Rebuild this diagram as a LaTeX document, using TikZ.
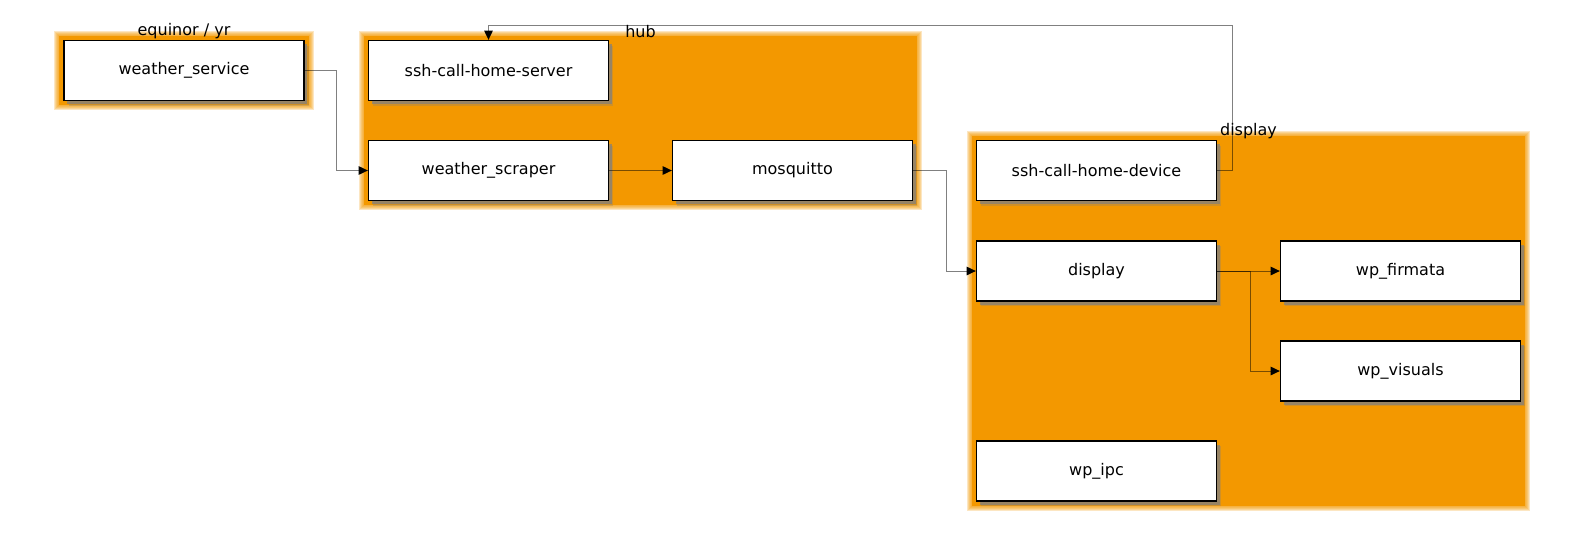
\documentclass[tikz,border=0pt]{standalone}
\usepackage{fontspec}
\setmainfont{DejaVu Sans}
\usetikzlibrary{arrows.meta,shadows,fit,backgrounds}
\definecolor{grouporange}{HTML}{F39800}

\begin{document}
\begin{tikzpicture}[x=0.75pt,y=-0.75pt,
    every node/.style={font=\fontsize{12}{14}\selectfont},
    svc/.style={draw=black, line width=1pt, fill=white, inner sep=0pt,
        minimum width=180pt, minimum height=45pt,
        drop shadow={shadow xshift=3.4pt, shadow yshift=-3.8pt, opacity=0.3},
        drop shadow={shadow xshift=2.4pt, shadow yshift=-2.8pt, opacity=0.7}},
    group/.style={fill=grouporange, inner sep=3pt},
    grouplabel/.style={inner sep=0pt},
    link/.style={draw=black!50, line width=0.75pt, blend mode=multiply,
        -{Triangle[length=7pt,width=6.5pt,black]}}]
    \useasboundingbox (0,0) rectangle (1584,540);

    % Services
    \node[svc] (service) at (184,70.5) {weather\_service};
    \node[svc] (sshserver) at (488.5,70.5) {ssh-call-home-server};
    \node[svc] (scraper) at (488.5,170.5) {weather\_scraper};
    \node[svc] (mosquitto) at (792.5,170.5) {mosquitto};
    \node[svc] (sshdevice) at (1096.5,170.5) {ssh-call-home-device};
    \node[svc] (display) at (1096.5,271) {display};
    \node[svc] (firmata) at (1400.5,271) {wp\_firmata};
    \node[svc] (visuals) at (1400.5,371) {wp\_visuals};
    \node[svc] (ipc) at (1096.5,471) {wp\_ipc};

    % Groups
    \begin{scope}[on background layer]
        \node[group, fit=(service)] (yr) {};
        \node[group, fit=(sshserver)(scraper)(mosquitto)] (hub) {};
        \node[group, fit=(sshdevice)(firmata)(ipc)] (device) {};
        \foreach \grp in {yr,hub,device}
            \foreach \g in {1,...,5}
                \fill[grouporange, opacity=0.24]
                    ([shift={(-\g,-\g)}]\grp.north west) rectangle ([shift={(\g,\g)}]\grp.south east);
    \end{scope}
    \node[grouplabel] at ([yshift=3]yr.north) {equinor / yr};
    \node[grouplabel] at ([yshift=3]hub.north) {hub};
    \node[grouplabel] at ([yshift=3]device.north) {display};

    % Connections
    \coordinate (back) at (1232,25);
    \draw[link] (service.east) -- ++(32,0) |- (scraper.west);
    \draw[link] (scraper) -- (mosquitto);
    \draw[link] (mosquitto.east) -- ++(33,0) |- (display.west);
    \draw[link] (sshdevice.east) -| (back) -| (sshserver.north);
    \draw[link] (display) -- (firmata);
    \draw[link] (display.east) -- ++(33,0) |- (visuals.west);
\end{tikzpicture}
\end{document}
